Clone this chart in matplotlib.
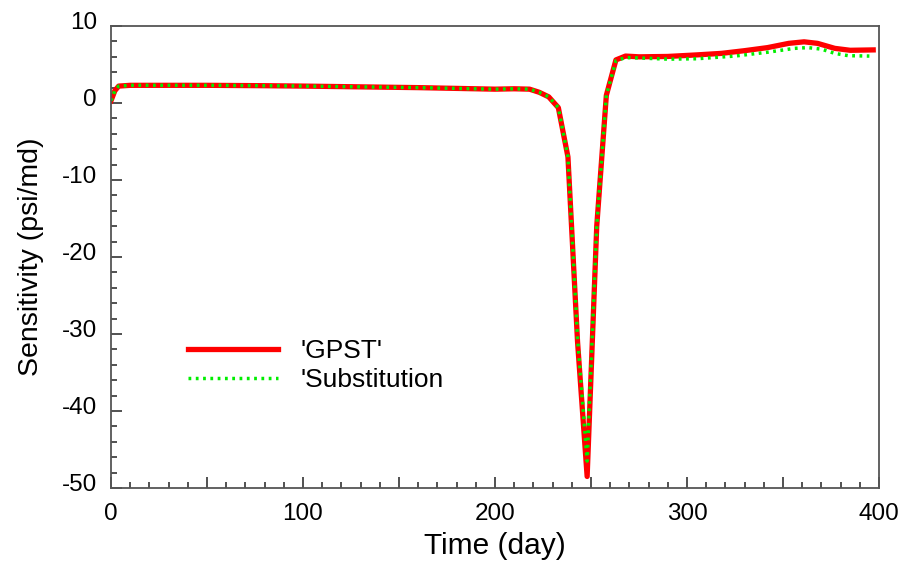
import matplotlib
matplotlib.use("Agg")
import matplotlib.pyplot as plt
from matplotlib.ticker import MultipleLocator, FuncFormatter
from matplotlib.transforms import ScaledTranslation

plt.rcParams['font.family'] = ['Liberation Sans', 'DejaVu Sans']
plt.rcParams['axes.unicode_minus'] = False

# GPST sensitivity curve
gpst_day = [0, 2, 4, 10, 30, 50, 80, 100, 130, 160, 190, 200, 210, 218, 223, 228,
            233, 238, 243, 248, 253, 258, 263, 268, 275, 290, 305, 318, 330, 342,
            353, 361, 368, 377, 385, 397]
gpst_val = [0.3, 1.6, 2.2, 2.3, 2.3, 2.3, 2.25, 2.2, 2.1, 2.0, 1.85, 1.8, 1.85, 1.8,
            1.4, 0.8, -0.6, -7.0, -31.0, -48.5, -16.0, 1.0, 5.6, 6.1, 6.0, 6.05,
            6.25, 6.45, 6.8, 7.2, 7.75, 7.95, 7.75, 7.1, 6.85, 6.9]

# substitution curve
sub_day = [0, 2, 4, 10, 30, 50, 80, 100, 130, 160, 190, 200, 210, 218, 223, 228,
           233, 238, 243, 248, 253, 258, 263, 268, 275, 290, 305, 325, 342, 356,
           363, 370, 377, 384, 395]
sub_val = [0.3, 1.6, 2.2, 2.3, 2.3, 2.3, 2.25, 2.2, 2.1, 2.0, 1.85, 1.8, 1.85, 1.8,
           1.4, 0.8, -0.6, -7.0, -30.5, -46.5, -16.0, 1.0, 5.5, 5.9, 5.85, 5.7,
           5.75, 6.1, 6.6, 7.1, 7.2, 7.0, 6.45, 6.15, 6.1]

fig = plt.figure(figsize=(9.04, 5.66), dpi=100)
ax = fig.add_axes([0.1228, 0.1378, 0.8495, 0.8162])

ax.plot(gpst_day, gpst_val, color='#ff0000', lw=3.8, label="'GPST'")
ax.plot(sub_day, sub_val, color='#00ee00', lw=2.5, dashes=(0.8, 1.3),
        label="'Substitution")

ax.set_xlim(0, 400)
ax.set_ylim(-50, 10)

ax.xaxis.set_major_locator(MultipleLocator(50))
ax.xaxis.set_minor_locator(MultipleLocator(10))
ax.xaxis.set_major_formatter(FuncFormatter(lambda v, p: '%d' % v if v % 100 == 0 else ''))
ax.yaxis.set_major_locator(MultipleLocator(10))
ax.yaxis.set_minor_locator(MultipleLocator(2))

ax.tick_params(which='both', direction='in', top=False, right=False,
               color='#333333', width=1.2, labelsize=17.5)
ax.tick_params(which='major', length=8)
ax.tick_params(which='minor', length=4)
ax.tick_params(axis='x', pad=11)
ax.tick_params(axis='y', pad=10)

for s in ax.spines.values():
    s.set_color('#555555')
    s.set_linewidth(1.3)

ax.set_xlabel('Time (day)', fontsize=21.5, labelpad=5)
ax.set_ylabel('Sensitivity (psi/md)', fontsize=20.5, labelpad=13)

off = ScaledTranslation(0, 0.06, fig.dpi_scale_trans)
for t in ax.yaxis.get_major_ticks():
    t.label1.set_transform(t.label1.get_transform() + off)

ax.legend(loc='upper left', bbox_to_anchor=(0.1, 0.322), frameon=False,
          fontsize=19, handlelength=3.4, handletextpad=0.87, labelspacing=0.17,
          borderpad=0, borderaxespad=0)

fig.savefig('out.png', dpi=100)
